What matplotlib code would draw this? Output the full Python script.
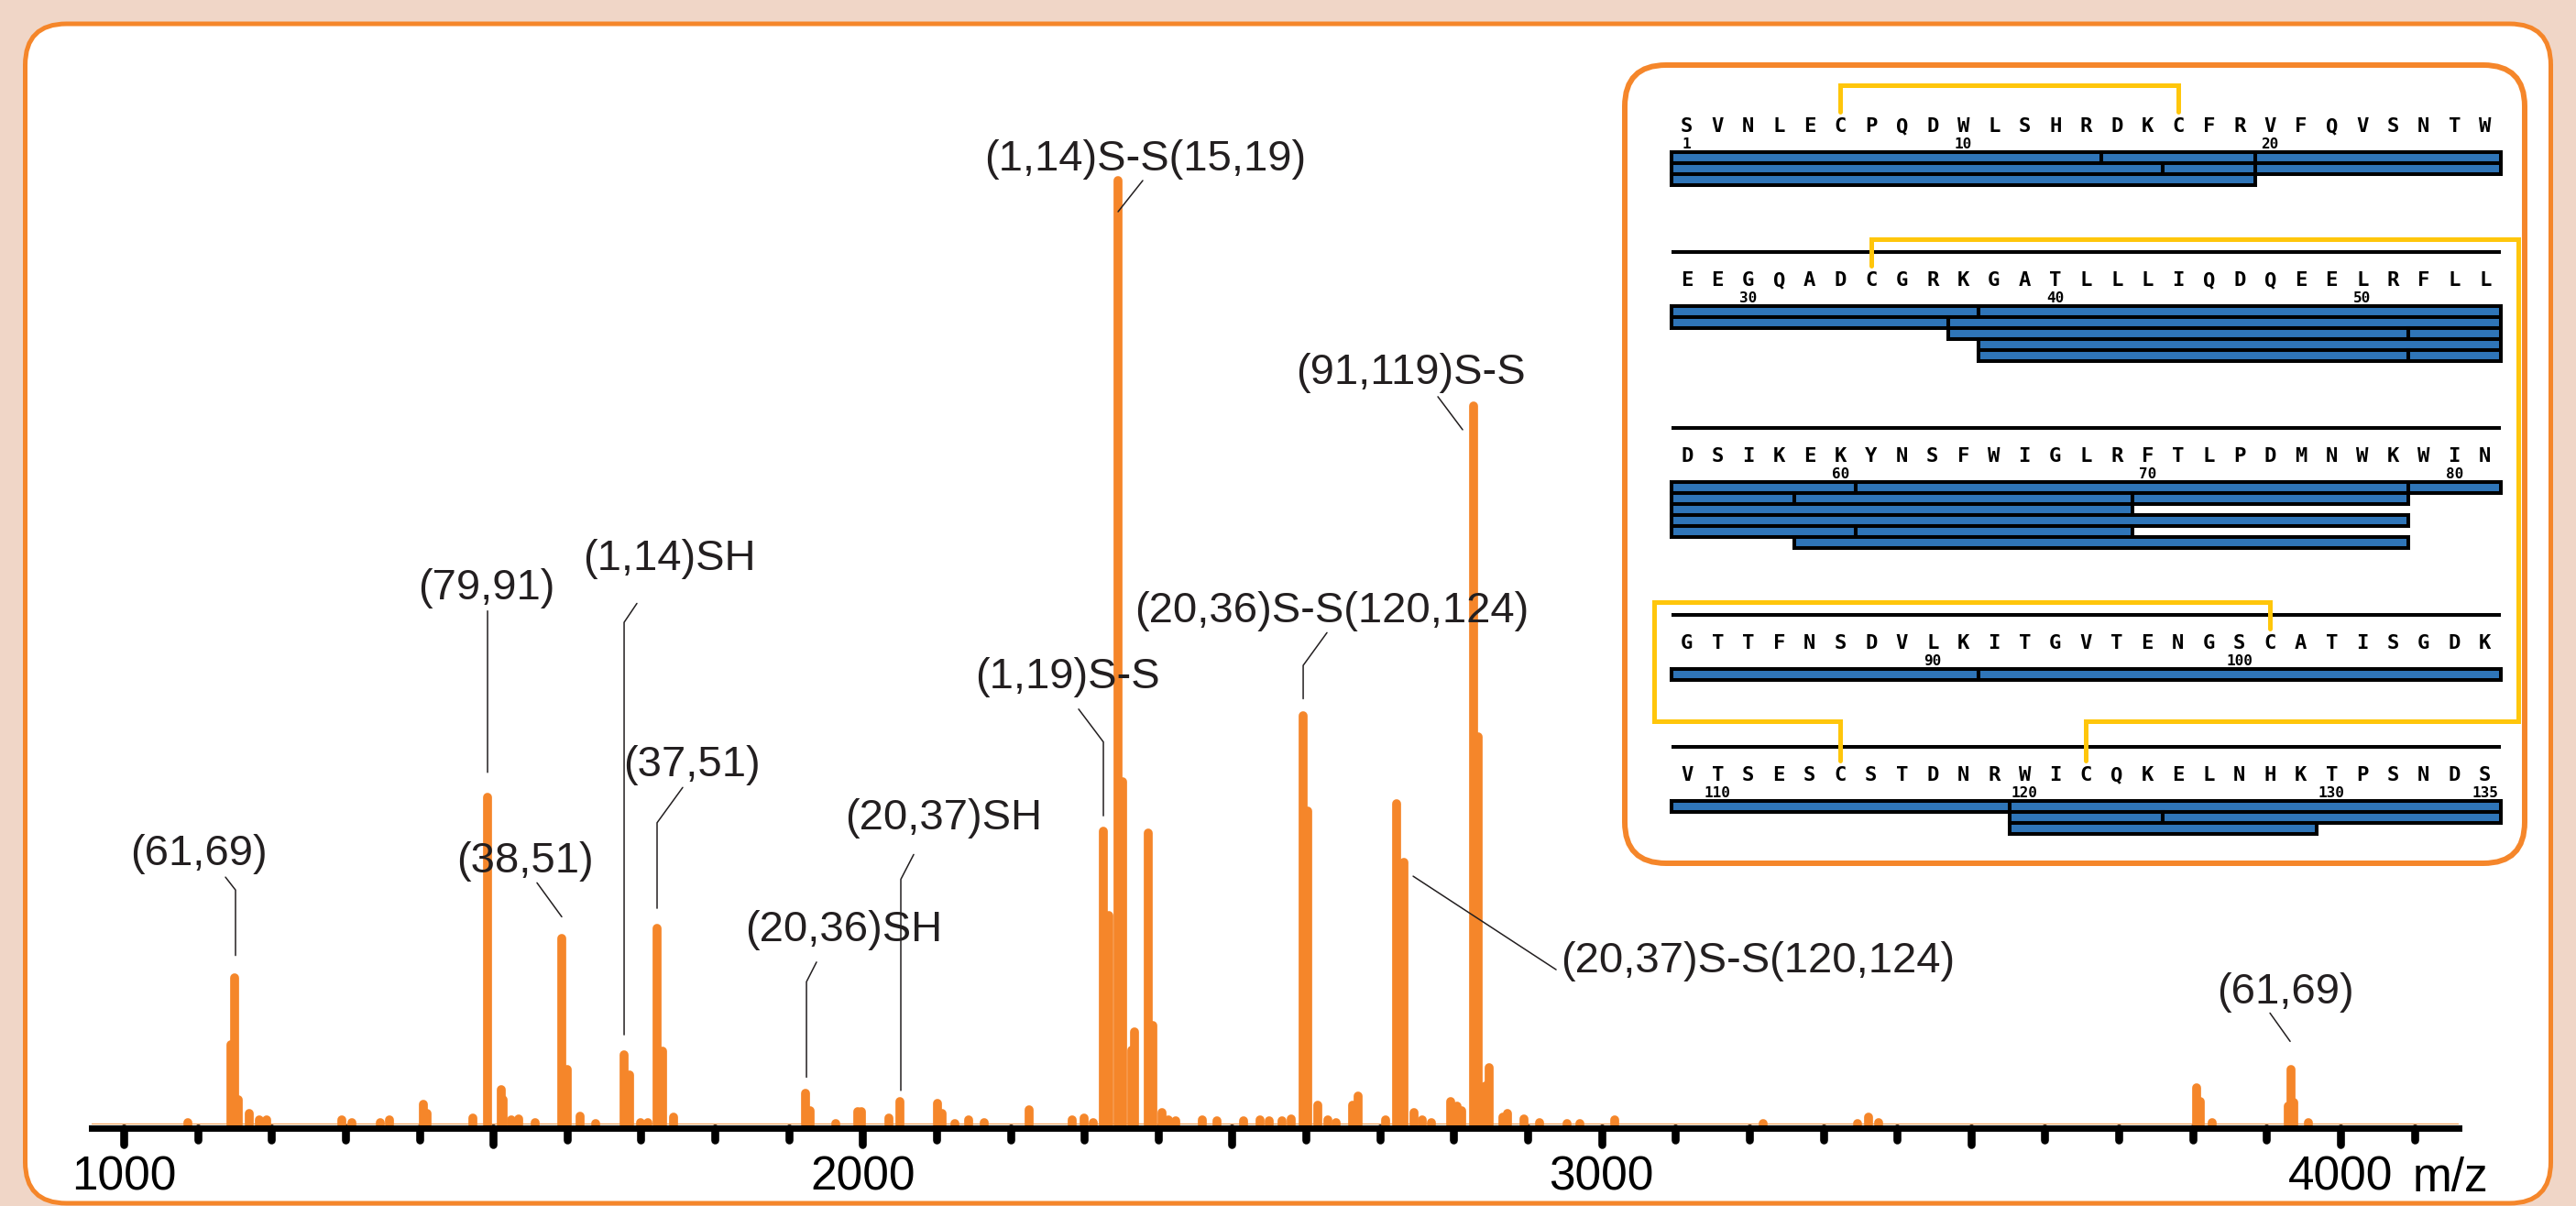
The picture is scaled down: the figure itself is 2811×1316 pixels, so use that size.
import matplotlib
matplotlib.use("Agg")
import matplotlib.pyplot as plt
from matplotlib.patches import FancyBboxPatch, Rectangle
from matplotlib.markers import MarkerStyle, TICKDOWN
from matplotlib.ticker import MultipleLocator, FuncFormatter

plt.rcParams["font.family"] = ["Liberation Sans", "DejaVu Sans"]

W, H, DPI = 2811, 1316, 100

ORANGE = "#F5862A"
PEACH = "#F0D6C7"
YELLOW = "#FFC60B"
BLUE = "#2F75B8"
INK = "#231F20"

# ---------------------------------------------------------------------------
# spectrum data (m/z, relative intensity %)
# ---------------------------------------------------------------------------
PEAK_MZ = [1087, 1145, 1150, 1155, 1170, 1183, 1193, 1295, 1309, 1347, 1360,
           1406, 1410, 1472, 1492, 1511, 1514, 1524, 1534, 1557, 1593, 1600,
           1617, 1639, 1677, 1684, 1700, 1710, 1722, 1729, 1744, 1923, 1929,
           1964, 1993, 1998, 2036, 2050, 2101, 2107, 2125, 2144, 2164, 2225,
           2284, 2300, 2312, 2326, 2333, 2346, 2352, 2364, 2368, 2387, 2393,
           2405, 2414, 2424, 2460, 2480, 2516, 2538, 2550, 2567, 2580, 2596,
           2602, 2616, 2630, 2641, 2663, 2671, 2708, 2723, 2733, 2746, 2757,
           2770, 2796, 2805, 2811, 2827, 2833, 2843, 2848, 2866, 2873, 2895,
           2916, 2953, 2971, 3018, 3219, 3347, 3361, 3375, 3805, 3810, 3827,
           3929, 3933, 3937, 3957]
PEAK_INT = [0.2, 8.4, 15.5, 2.6, 1.2, 0.5, 0.5, 0.5, 0.2, 0.2, 0.5,
            2.1, 1.2, 0.7, 34.7, 3.7, 2.6, 0.5, 0.6, 0.2, 19.7, 5.8,
            0.9, 0.1, 7.4, 5.2, 0.2, 0.2, 20.8, 7.8, 0.8, 3.3, 1.5,
            0.1, 1.4, 1.4, 0.7, 2.4, 2.2, 1.2, 0.1, 0.5, 0.2, 1.6,
            0.5, 0.7, 0.2, 31.1, 22.1, 100.0, 36.3, 7.9, 9.8, 30.9, 10.5,
            1.3, 0.5, 0.4, 0.5, 0.4, 0.4, 0.5, 0.4, 0.4, 0.6, 43.3,
            33.2, 2.0, 0.5, 0.2, 2.0, 3.0, 0.5, 34.0, 27.8, 1.3, 0.5,
            0.2, 2.4, 1.9, 1.5, 76.1, 41.1, 4.1, 6.0, 0.8, 1.2, 0.6,
            0.2, 0.1, 0.1, 0.5, 0.1, 0.1, 0.8, 0.2, 3.9, 2.4, 0.2,
            1.9, 5.8, 2.3, 0.2]

LABELS = ["(61,69)", "(79,91)", "(38,51)", "(1,14)SH", "(37,51)", "(20,36)SH",
          "(20,37)SH", "(1,19)S-S", "(1,14)S-S(15,19)", "(20,36)S-S(120,124)",
          "(91,119)S-S", "(20,37)S-S(120,124)", "(61,69)"]
LABEL_MZ = [1102, 1491, 1543, 1738, 1769, 1974, 2109, 2277, 2383, 2635, 2742, 3211, 3926]
LABEL_INT = [28.6, 56.8, 27.9, 59.9, 38.1, 20.6, 32.4, 47.4, 102.2, 54.4, 79.6, 17.3, 14.0]

# leader lines: start (near text), end (near peak), elbow slope (None = straight)
LEADERS = [
    ((1137.7, 26.2), (1151.3, 17.9), -52),
    ((1492.4, 54.4), (1492.4, 37.3), None),
    ((1559.3, 25.6), (1592.8, 22.0), None),
    ((1694.5, 55.2), (1677.2, 9.5), 56),
    ((1756.5, 35.7), (1721.8, 22.9), 54),
    ((1937.6, 17.2), (1924.0, 5.0), 63),
    ((2069.1, 28.6), (2051.7, 3.6), 62.6),
    ((2292.3, 44.0), (2325.8, 32.7), -53),
    ((2379.1, 100.0), (2345.7, 96.7), None),
    ((2628.4, 52.1), (2596.2, 45.1), 54),
    ((2778.5, 77.1), (2812.0, 73.6), None),
    ((2938.5, 16.4), (2745.0, 26.3), None),
    ((3904.6, 11.8), (3931.9, 8.8), None),
]

# ---------------------------------------------------------------------------
# sequence coverage data
# ---------------------------------------------------------------------------
SEQ_ROWS = ["SVNLECPQDWLSHRDKCFRVFQVSNTW",
            "EEGQADCGRKGATLLLIQDQEELRFLL",
            "DSIKEKYNSFWIGLRFTLPDMNWKWIN",
            "GTTFNSDVLKITGVTENGSCATISGDK",
            "VTSESCSTDNRWICQKELNHKTPSNDS"]
RES_NUMBERS = [1, 10, 20, 30, 40, 50, 60, 70, 80, 90, 100, 110, 120, 130, 135]
ROW_TRACKS = [
    [[(1, 14), (15, 19), (20, 27)], [(1, 16), (17, 19), (20, 27)], [(1, 19)]],
    [[(28, 37), (38, 54)], [(28, 36), (37, 54)], [(37, 51), (52, 54)],
     [(38, 54)], [(38, 51), (52, 54)]],
    [[(55, 60), (61, 78), (79, 81)], [(55, 58), (59, 69), (70, 78)], [(55, 69)],
     [(55, 78)], [(55, 60), (61, 69)], [(59, 78)]],
    [[(82, 91), (92, 108)]],
    [[(109, 119), (120, 135)], [(120, 124), (125, 135)], [(120, 129)]],
]
DISULFIDES = [(6, 17), (34, 122), (101, 114)]
BOND_SIDE = [None, "right", "left"]

PER_ROW = 27

fig = plt.figure(figsize=(W / DPI, H / DPI), dpi=DPI, facecolor=PEACH)

# ---------------------------------------------------------------------------
# background panel (pixel canvas)
# ---------------------------------------------------------------------------
bg = fig.add_axes([0, 0, 1, 1], zorder=0)
bg.set_xlim(0, W)
bg.set_ylim(H, 0)
bg.axis("off")
bg.add_patch(FancyBboxPatch((27.5, 26), 2756, 1287,
                            boxstyle="round,pad=0,rounding_size=45",
                            fc="white", ec=ORANGE, lw=3.6))
bg.add_patch(FancyBboxPatch((1773, 71), 982, 871,
                            boxstyle="round,pad=0,rounding_size=45",
                            fc="white", ec=ORANGE, lw=4.3))

# ---------------------------------------------------------------------------
# spectrum
# ---------------------------------------------------------------------------
ax = fig.add_axes([100 / W, (H - 1227) / H, 2583 / W, 1030 / H], zorder=1)
ax.patch.set_alpha(0)
ax.set_xlim(956.6, 4160)
ax.set_ylim(0, 100)

ax.axhline(0, color=ORANGE, lw=2, zorder=2)
lc = ax.vlines(PEAK_MZ, 0, PEAK_INT, colors=ORANGE, lw=7, clip_on=False, zorder=2)
lc.set_capstyle("round")
lc.set_joinstyle("round")

for side in ["top", "left", "right"]:
    ax.spines[side].set_visible(False)
ax.spines["bottom"].set_linewidth(5)
ax.spines["bottom"].set_position(("outward", 3.2))
ax.set_yticks([])
ax.xaxis.set_major_locator(MultipleLocator(500))
ax.xaxis.set_minor_locator(MultipleLocator(100))
ax.xaxis.set_major_formatter(FuncFormatter(lambda v, p: f"{v:.0f}" if v % 1000 == 0 else ""))
ax.tick_params(axis="x", which="major", direction="out", length=12.6, width=6.2,
               pad=8, labelsize=37, colors="black")
ax.tick_params(axis="x", which="minor", direction="out", length=9.0, width=6.2)
for tick in ax.xaxis.get_major_ticks() + ax.xaxis.get_minor_ticks():
    tick.tick1line.set_marker(MarkerStyle(TICKDOWN, capstyle="round"))
ax.set_xlabel("m/z", fontsize=37, ha="left", va="center")
ax.xaxis.set_label_coords(0.9806, -0.058)

for text, mz, inten, (start, end, ang) in zip(LABELS, LABEL_MZ, LABEL_INT, LEADERS):
    ax.text(mz, inten, text, fontsize=34, color=INK, ha="center", va="center")
    cs = "arc3,rad=0" if ang is None else f"angle,angleA={ang},angleB=90,rad=0"
    ax.annotate("", xy=end, xytext=start, annotation_clip=False,
                arrowprops=dict(arrowstyle="-", color=INK, lw=1.1,
                                shrinkA=0, shrinkB=0, connectionstyle=cs))

# ---------------------------------------------------------------------------
# sequence coverage inset (x in residue columns, y in pixel rows)
# ---------------------------------------------------------------------------
COL = 33.5
X0 = 1824
axi = fig.add_axes([1771 / W, (H - 941) / H, 986 / W, 869 / H], zorder=2)
axi.set_xlim((1771 - X0) / COL, (2757 - X0) / COL)
axi.set_ylim(941, 72)
axi.axis("off")

PITCH = 12.0
letter_y = [137.0]
for tracks in ROW_TRACKS[:-1]:
    letter_y.append(letter_y[-1] + 35 + (len(tracks) - 1) * PITCH + 79 + 30)

mono = dict(family="DejaVu Sans Mono", weight="bold", color="black")
for r, seq in enumerate(SEQ_ROWS):
    ly = letter_y[r]
    if r > 0:
        axi.hlines(ly - 30, 0, PER_ROW, color="black", lw=2.9)
    for c, aa in enumerate(seq):
        axi.text(c + 0.5, ly + 7.5, aa, fontsize=16, ha="center", va="baseline", **mono)
    for t, track in enumerate(ROW_TRACKS[r]):
        yc = ly + 35 + t * PITCH
        for a, b in track:
            c0 = (a - 1) % PER_ROW
            c1 = (b - 1) % PER_ROW + 1
            axi.add_patch(Rectangle((c0, yc - PITCH / 2), c1 - c0, PITCH,
                                    fc=BLUE, ec="black", lw=2.9))

for n in RES_NUMBERS:
    r, c = (n - 1) // PER_ROW, (n - 1) % PER_ROW
    axi.text(c + 0.5, letter_y[r] + 25, str(n), fontsize=11.5, ha="center",
             va="baseline", **mono)

right_x = (2748 - X0) / COL
left_x = (1805 - X0) / COL
for (a, b), side in zip(DISULFIDES, BOND_SIDE):
    ra, ca = (a - 1) // PER_ROW, (a - 1) % PER_ROW + 0.5
    rb, cb = (b - 1) // PER_ROW, (b - 1) % PER_ROW + 0.5
    la, lb = letter_y[ra], letter_y[rb]
    if side is None:
        xs = [ca, ca, cb, cb]
        ys = [la - 15, la - 44, la - 44, la - 15]
    else:
        sx = right_x if side == "right" else left_x
        xs = [ca, ca, sx, sx, cb, cb]
        ys = [la - 15, la - 44, la - 44, lb - 58, lb - 58, lb - 15]
    axi.plot(xs, ys, color=YELLOW, lw=3.6, solid_joinstyle="miter",
             solid_capstyle="round", clip_on=False)

fig.savefig("out.png", dpi=DPI, facecolor=PEACH)
